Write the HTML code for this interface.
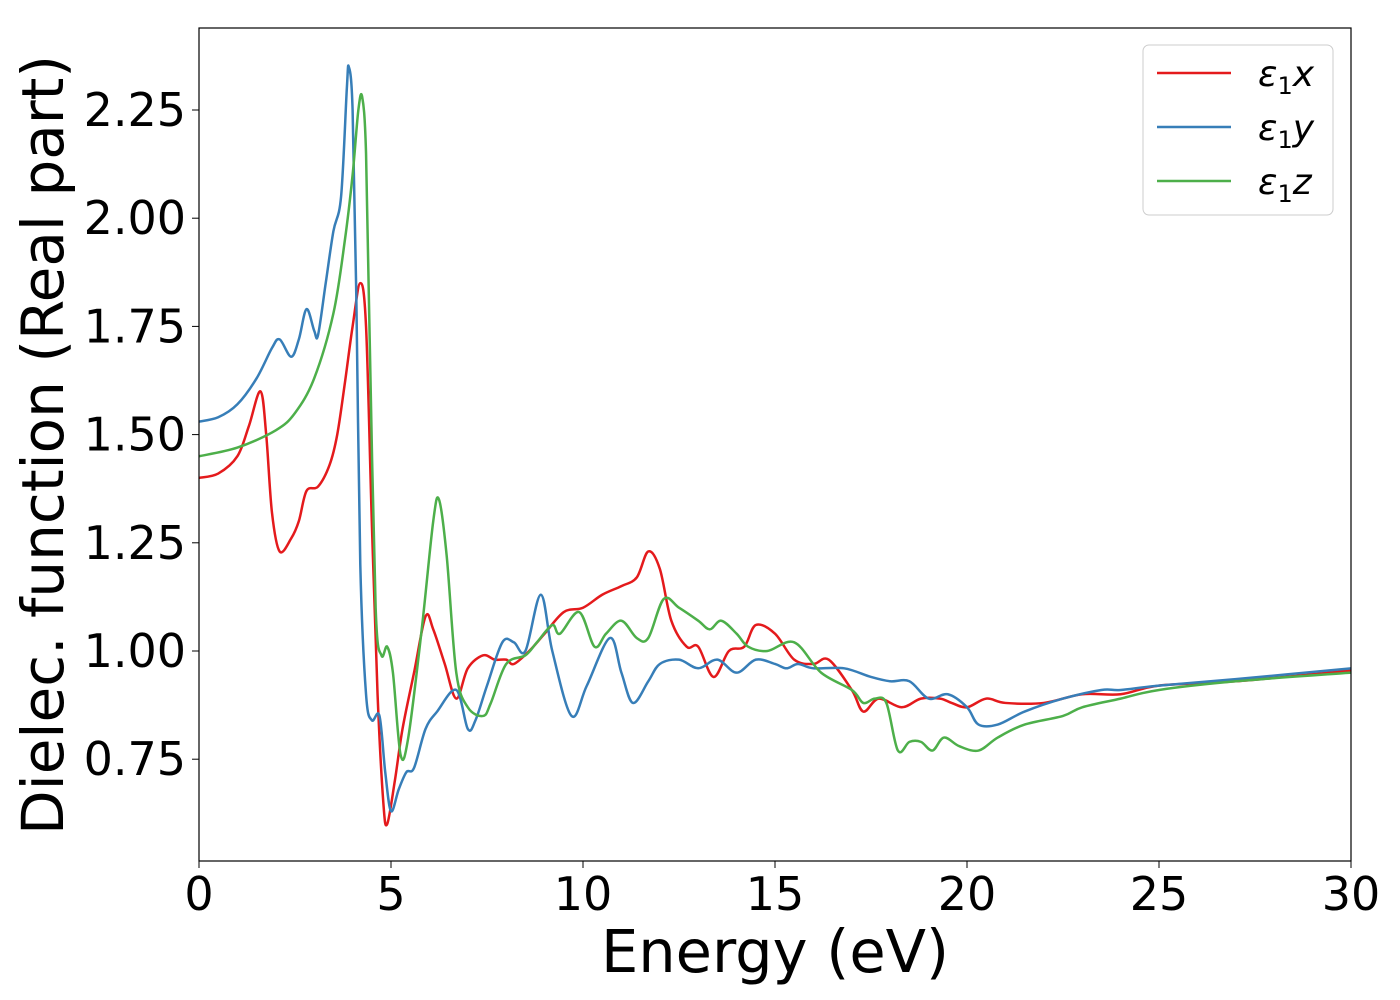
<!DOCTYPE html>
<html><head><meta charset="utf-8"><style>
html,body{margin:0;padding:0;background:#fff;width:1400px;height:1000px;overflow:hidden}
text{font-family:"DejaVu Sans","Liberation Sans",sans-serif}
</style></head><body>
<svg id="chart" width="1400" height="1000" xmlns="http://www.w3.org/2000/svg">
<g id="axes"></g>
<g id="series"></g>
<rect x="199" y="28" width="1152" height="833" fill="none" stroke="#000" stroke-width="1.2"/>
<text x="775" y="972" font-size="59" text-anchor="middle">Energy (eV)</text>
<text transform="translate(63,445) rotate(-90)" font-size="58" text-anchor="middle">Dielec. function (Real part)</text>
<g>
<rect x="1143" y="45" width="190" height="170" rx="6" fill="#fff" stroke="#ccc"/>
<line x1="1157" y1="73" x2="1231" y2="73" stroke="#e41a1c" stroke-width="2.5"/>
<text x="1258" y="86" font-size="36" font-style="italic">ε<tspan font-size="24" dy="8" font-style="normal">1</tspan><tspan dy="-8">x</tspan></text>
<line x1="1157" y1="127" x2="1231" y2="127" stroke="#377eb8" stroke-width="2.5"/>
<text x="1258" y="140" font-size="36" font-style="italic">ε<tspan font-size="24" dy="8" font-style="normal">1</tspan><tspan dy="-8">y</tspan></text>
<line x1="1157" y1="181" x2="1231" y2="181" stroke="#4daf4a" stroke-width="2.5"/>
<text x="1258" y="194" font-size="36" font-style="italic">ε<tspan font-size="24" dy="8" font-style="normal">1</tspan><tspan dy="-8">z</tspan></text>
</g>
</svg>
<script>
const xTicks=[0,5,10,15,20,25,30];
const yTicks=[0.75,1.00,1.25,1.50,1.75,2.00,2.25];
const redX=[0,0.5,1.0,1.3,1.6,1.75,1.9,2.1,2.4,2.6,2.8,3.1,3.4,3.6,3.8,4.0,4.2,4.35,4.5,4.65,4.8,4.9,5.1,5.3,5.6,5.9,6.1,6.4,6.7,7.0,7.4,7.7,8.0,8.2,8.6,9.0,9.5,10,10.5,11,11.4,11.7,12,12.3,12.7,13.0,13.4,13.8,14.2,14.5,15,15.5,16,16.4,17,17.3,17.7,18.3,18.8,19.3,19.6,20,20.5,21,22,23,24,25,27,30];
const redY=[1.40,1.41,1.45,1.52,1.60,1.50,1.32,1.23,1.26,1.30,1.37,1.38,1.43,1.50,1.62,1.75,1.85,1.75,1.3,0.9,0.65,0.60,0.70,0.82,0.95,1.08,1.05,0.97,0.89,0.96,0.99,0.98,0.98,0.97,1.00,1.04,1.09,1.10,1.13,1.15,1.17,1.23,1.19,1.07,1.01,1.01,0.94,1.00,1.01,1.06,1.04,0.98,0.97,0.98,0.91,0.86,0.89,0.87,0.89,0.89,0.88,0.87,0.89,0.88,0.88,0.90,0.90,0.92,0.93,0.955];
const blueX=[0,0.5,1,1.5,1.9,2.1,2.4,2.6,2.8,3.0,3.1,3.3,3.5,3.7,3.85,3.9,4.0,4.1,4.2,4.35,4.5,4.7,4.85,5.0,5.2,5.4,5.6,5.9,6.2,6.7,7.0,7.2,7.5,7.9,8.2,8.5,8.9,9.2,9.7,10.1,10.7,11.0,11.3,11.7,12.0,12.5,13.0,13.5,14,14.5,15,15.3,15.6,16,16.8,17.5,18,18.5,19,19.5,20,20.3,20.8,21.5,22.5,23.5,24,25,27,30];
const blueY=[1.53,1.54,1.57,1.63,1.70,1.72,1.68,1.72,1.79,1.74,1.73,1.85,1.97,2.05,2.30,2.35,2.25,1.8,1.2,0.9,0.84,0.85,0.72,0.63,0.68,0.72,0.73,0.82,0.86,0.91,0.82,0.84,0.92,1.02,1.02,1.00,1.13,1.00,0.85,0.92,1.03,0.95,0.88,0.93,0.97,0.98,0.96,0.98,0.95,0.98,0.97,0.96,0.97,0.96,0.96,0.94,0.93,0.93,0.89,0.90,0.87,0.83,0.83,0.86,0.89,0.91,0.91,0.92,0.935,0.96];
const greenX=[0,1,2,2.5,3,3.5,3.8,4.0,4.15,4.25,4.35,4.45,4.6,4.75,4.9,5.05,5.25,5.45,5.8,6.1,6.25,6.45,6.7,7.0,7.4,7.6,8.0,8.5,8.8,9.2,9.4,9.9,10.3,10.6,11,11.4,11.7,12.1,12.5,13,13.3,13.6,14,14.3,14.8,15.5,16.2,17,17.3,17.6,17.9,18.2,18.5,18.8,19.1,19.4,19.8,20.3,20.8,21.5,22.5,23,24,25,27,30];
const greenY=[1.45,1.47,1.51,1.55,1.63,1.78,1.95,2.10,2.25,2.28,2.15,1.7,1.1,0.99,1.01,0.95,0.76,0.80,1.05,1.30,1.35,1.22,0.95,0.87,0.85,0.88,0.97,0.99,1.02,1.06,1.04,1.09,1.01,1.04,1.07,1.03,1.03,1.12,1.10,1.07,1.05,1.07,1.04,1.01,1.00,1.02,0.95,0.91,0.88,0.89,0.88,0.77,0.79,0.79,0.77,0.80,0.78,0.77,0.80,0.83,0.85,0.87,0.89,0.91,0.93,0.95];

const X0=199,X1=1351,XMIN=0,XMAX=30;
const YREF=651,YSC=432.8;
function sx(v){return X0+(v-XMIN)/(XMAX-XMIN)*(X1-X0);}
function sy(v){return YREF-(v-1)*YSC;}
const NS="http://www.w3.org/2000/svg";
const axes=document.getElementById('axes');
xTicks.forEach(t=>{
  const l=document.createElementNS(NS,'line');
  l.setAttribute('x1',sx(t));l.setAttribute('x2',sx(t));l.setAttribute('y1',861);l.setAttribute('y2',868);
  l.setAttribute('stroke','#000');
  
  
  axes.appendChild(l);
  const tx=document.createElementNS(NS,'text');
  tx.setAttribute('x',sx(t));tx.setAttribute('y',910);tx.setAttribute('font-size','46');tx.setAttribute('text-anchor','middle');
  tx.textContent=String(t);
  
  
  axes.appendChild(tx);
});
yTicks.forEach(t=>{
  const l=document.createElementNS(NS,'line');
  l.setAttribute('x1',192);l.setAttribute('x2',199);l.setAttribute('y1',sy(t));l.setAttribute('y2',sy(t));
  l.setAttribute('stroke','#000');
  
  
  axes.appendChild(l);
  const tx=document.createElementNS(NS,'text');
  tx.setAttribute('x',186);tx.setAttribute('y',sy(t)+16);tx.setAttribute('font-size','46');tx.setAttribute('text-anchor','end');
  tx.textContent=t.toFixed(2);
  
  
  axes.appendChild(tx);
});
function pathFor(xs,ys){
  const p=xs.map((x,i)=>[sx(x),sy(ys[i])]);
  let d='M'+p[0][0]+','+p[0][1];
  for(let i=0;i<p.length-1;i++){
    const p0=p[i-1]||p[i],p1=p[i],p2=p[i+1],p3=p[i+2]||p2;
    const c1=[p1[0]+(p2[0]-p0[0])/6,p1[1]+(p2[1]-p0[1])/6];
    const c2=[p2[0]-(p3[0]-p1[0])/6,p2[1]-(p3[1]-p1[1])/6];
    d+=' C'+c1[0]+','+c1[1]+' '+c2[0]+','+c2[1]+' '+p2[0]+','+p2[1];
  }
  return d;
}
const sg=document.getElementById('series');
function addLine(xs,ys,color,name){
  const el=document.createElementNS(NS,'path');
  el.setAttribute('d',pathFor(xs,ys));
  el.setAttribute('fill','none');el.setAttribute('stroke',color);el.setAttribute('stroke-width','2.5');
  el.setAttribute('clip-path','url(#clip)');
  
  
  sg.appendChild(el);
}
const defs=document.createElementNS(NS,'defs');
defs.innerHTML='<clipPath id="clip"><rect x="199" y="28" width="1152" height="833"/></clipPath>';
document.getElementById('chart').appendChild(defs);
addLine(redX,redY,'#e41a1c','series-eps1-x');
addLine(blueX,blueY,'#377eb8','series-eps1-y');
addLine(greenX,greenY,'#4daf4a','series-eps1-z');
</script>
</body></html>
